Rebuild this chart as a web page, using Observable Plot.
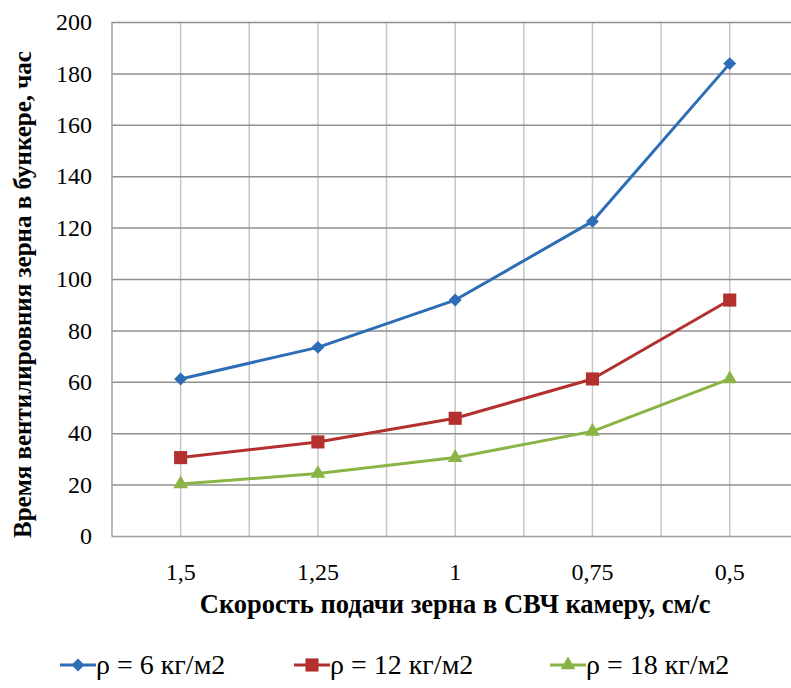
<!DOCTYPE html>
<html>
<head>
<meta charset="utf-8">
<script src="https://cdn.jsdelivr.net/npm/d3@7"></script>
<script src="https://cdn.jsdelivr.net/npm/@observablehq/plot@0.6"></script>
<style>
  body { margin: 0; background: #fff; font-family: "Liberation Serif", "Times New Roman", serif; }
  #chart svg { display: block; }
  .legend { position: relative; width: 791px; height: 58px; font-size: 28px; line-height: 30px; color: #000; }
  .legend .item { position: absolute; top: 20px; display: flex; align-items: center; white-space: nowrap; }
  .legend svg { display: block; }
</style>
</head>
<body>
<div id="chart"></div>
<div class="legend" id="legend"></div>
<script>
// Feed rate of grain into the microwave chamber, cm/s (category labels, left to right)
const speeds = ["1,5", "1,25", "1", "0,75", "0,5"];
// Ventilation time in the hopper, hours, for each surface density
const rho6 = [61.3, 73.6, 92, 122.6, 184];
const rho12 = [30.7, 36.8, 46, 61.3, 92];
const rho18 = [20.4, 24.5, 30.7, 40.9, 61.3];
const seriesNames = ["ρ = 6 кг/м2", "ρ = 12 кг/м2", "ρ = 18 кг/м2"];
const colors = ["#2d6db5", "#b3302e", "#8ab445"];
const symbols = ["diamond2", "square", "triangle"];
const radii = [5.8, 7.4, 5.5];
const legendLeft = [60, 294, 550];
const yTicks = d3.range(0, 201, 20);

const rows = [rho6, rho12, rho18].flatMap((vals, s) =>
  vals.map((v, i) => ({ i, speed: speeds[i], value: v, series: seriesNames[s] }))
);

const idx = speeds.map((_, i) => i);
const halfSteps = d3.range(0, speeds.length - 0.5 + 0.01, 0.5);

const chart = Plot.plot({
  width: 791,
  height: 630,
  marginTop: 22,
  marginBottom: 94,
  marginLeft: 111.5,
  marginRight: 0,
  style: { fontFamily: "Liberation Serif, Times New Roman, serif", fontSize: "24px", color: "#000", background: "#fff" },
  x: { domain: [-0.5, 4.45], axis: null },
  y: { domain: [0, 200], axis: null },
  marks: [
    // light vertical grid at category centres and boundaries
    Plot.ruleX(halfSteps, { stroke: "#c6c6c6", strokeWidth: 1.5 }),
    // darker horizontal grid
    Plot.ruleY(yTicks.filter(d => d > 0), { stroke: "#8f8f8f", strokeWidth: 1.5 }),
    // frame: left and bottom edges
    Plot.ruleX([-0.5], { stroke: "#a0a0a0", strokeWidth: 1.5 }),
    Plot.ruleY([0], { stroke: "#a0a0a0", strokeWidth: 1.5 }),
    Plot.axisY(yTicks, { tickSize: 0, tickPadding: 20, fontSize: 24, label: null }),
    Plot.axisX(idx, { tickSize: 0, tickPadding: 26, fontSize: 24, tickFormat: i => speeds[i], label: null }),
    Plot.line(rows, { x: "i", y: "value", z: "series", stroke: "series", strokeWidth: 3 }),
    ...seriesNames.map((name, s) =>
      Plot.dot(rows.filter(r => r.series === name), {
        x: "i", y: "value", symbol: () => symbols[s], r: radii[s], fill: colors[s], stroke: "none"
      })
    ),
    Plot.text(["Скорость подачи зерна в СВЧ камеру, см/с"], {
      x: [2], frameAnchor: "bottom", dy: 76, fontWeight: "bold", fontSize: 26.5
    }),
    Plot.text(["Время вентилировния зерна в бункере, час"], {
      frameAnchor: "left", textAnchor: "middle", rotate: -90, dx: -89, dy: 15, fontWeight: "bold", fontSize: 25
    })
  ],
  color: { domain: seriesNames, range: colors },
  symbol: { domain: symbols, range: symbols }
});
document.getElementById("chart").appendChild(chart);

// legend below the chart
const legend = d3.select("#legend");
seriesNames.forEach((name, s) => {
  const item = legend.append("div").attr("class", "item").style("left", legendLeft[s] + "px");
  const sw = item.append("svg").attr("width", 36).attr("height", 18);
  sw.append("line").attr("x1", 0).attr("x2", 36).attr("y1", 9).attr("y2", 9)
    .attr("stroke", colors[s]).attr("stroke-width", 3);
  const size = Math.PI * radii[s] * radii[s];
  const sym = { diamond2: d3.symbolDiamond2, square: d3.symbolSquare, triangle: d3.symbolTriangle }[symbols[s]];
  sw.append("path").attr("transform", "translate(18,9)")
    .attr("d", d3.symbol(sym, size)()).attr("fill", colors[s]);
  item.append("span").text(name);
});
</script>
</body>
</html>
